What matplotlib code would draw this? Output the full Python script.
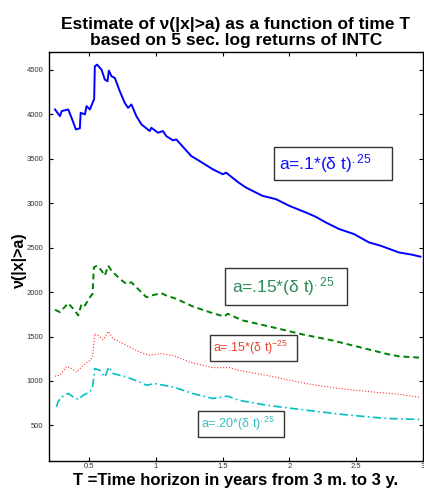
import matplotlib.pyplot as plt

plt.rcParams['font.family'] = ['Liberation Sans', 'DejaVu Sans']
plt.rcParams['mathtext.default'] = 'regular'

# threshold a = .1*(dt)^.25
t_blue = [0.245, 0.282, 0.295, 0.344, 0.369, 0.401, 0.431, 0.437, 0.469, 0.481,
          0.506, 0.531, 0.538, 0.543, 0.560, 0.593, 0.618, 0.638, 0.648, 0.668,
          0.693, 0.730, 0.767, 0.792, 0.817, 0.854, 0.892, 0.954, 0.966, 1.016,
          1.053, 1.078, 1.128, 1.153, 1.265, 1.327, 1.426, 1.501, 1.526, 1.620,
          1.675, 1.799, 1.899, 1.999, 2.123, 2.198, 2.272, 2.372, 2.484, 2.596,
          2.683, 2.819, 2.919, 2.981]
nu_blue = [4054, 3979, 4035, 4054, 3960, 3830, 3841, 4016, 3998, 4091,
           4054, 4147, 4166, 4539, 4558, 4502, 4390, 4371, 4491, 4427,
           4408, 4259, 4128, 4072, 4110, 3979, 3886, 3811, 3848, 3792,
           3811, 3754, 3706, 3717, 3530, 3474, 3381, 3325, 3343, 3231,
           3175, 3082, 3045, 2970, 2895, 2846, 2783, 2709, 2652, 2558,
           2521, 2446, 2420, 2398]

# threshold a = .15*(dt)^.25
t_green = [0.245, 0.282, 0.344, 0.381, 0.419, 0.444, 0.469, 0.506, 0.526, 0.536,
           0.560, 0.593, 0.618, 0.643, 0.668, 0.730, 0.780, 0.817, 0.866, 0.929,
           0.966, 1.041, 1.078, 1.153, 1.277, 1.426, 1.513, 1.538, 1.620, 1.650,
           1.849, 2.098, 2.322, 2.571, 2.720, 2.819, 2.981]
nu_green = [1801, 1774, 1875, 1812, 1737, 1868, 1849, 1942, 1980, 2278,
            2297, 2241, 2185, 2297, 2241, 2148, 2092, 2110, 2036, 1942,
            1961, 1987, 1961, 1924, 1838, 1762, 1725, 1756, 1700, 1681,
            1613, 1524, 1456, 1363, 1307, 1277, 1262]

# threshold a = .15*(dt)^-.25
t_red = [0.245, 0.282, 0.332, 0.369, 0.407, 0.456, 0.506, 0.526, 0.543, 0.568,
         0.605, 0.643, 0.680, 0.780, 0.879, 0.954, 1.028, 1.128, 1.252, 1.426,
         1.551, 1.620, 1.825, 2.123, 2.372, 2.620, 2.819, 2.981]
nu_red = [1053, 1064, 1165, 1139, 1101, 1176, 1232, 1269, 1532, 1513,
          1464, 1557, 1475, 1400, 1325, 1288, 1307, 1288, 1213, 1150,
          1150, 1120, 1064, 971, 915, 877, 851, 814]

# threshold a = .20*(dt)^.25
t_cyan = [0.257, 0.267, 0.295, 0.344, 0.381, 0.419, 0.456, 0.506, 0.526, 0.543,
          0.581, 0.618, 0.648, 0.680, 0.780, 0.879, 0.929, 0.991, 1.128, 1.277,
          1.426, 1.538, 1.620, 1.825, 2.123, 2.446, 2.720, 2.981]
nu_cyan = [709, 765, 821, 859, 821, 792, 840, 877, 933, 1139,
           1120, 1045, 1157, 1083, 1045, 989, 952, 971, 933, 859,
           803, 829, 784, 728, 672, 616, 579, 567]

x_ticks = [0.5, 1, 1.5, 2, 2.5, 3]
x_ticklabels = ['0.5', '1', '1.5', '2', '2.5', '3']
y_ticks = [500, 1000, 1500, 2000, 2500, 3000, 3500, 4000, 4500]

fig = plt.figure(figsize=(4.24, 4.88), dpi=100)
ax = fig.add_axes([49 / 424, 27 / 488, 374 / 424, 409 / 488])

ax.plot(t_blue, nu_blue, color='#0000ff', lw=1.4)
ax.plot(t_green, nu_green, color='#008000', lw=1.4, ls=(0, (3, 2)))
ax.plot(t_red, nu_red, color='#ff3030', lw=0.8, ls=':')
ax.plot(t_cyan, nu_cyan, color='#00bfbf', lw=1.2, ls=(0, (5, 2, 1, 2)))

ax.set_xlim(0.2, 3)
ax.set_ylim(100, 4700)
ax.set_xticks(x_ticks)
ax.set_xticklabels(x_ticklabels)
ax.set_yticks(y_ticks)
ax.tick_params(direction='in', top=True, right=True, labelsize=5.5, length=3,
               width=0.8, pad=4, labelcolor='#333333')
ax.tick_params(axis='x', pad=1.5)
for s in ax.spines.values():
    s.set_linewidth(1.0)

box = dict(boxstyle='square,pad=0.3', fc='white', ec='#333333', lw=1.0)
ax.text(1.92, 3446, 'a=.1*(\u03b4 t)$^{.25}$    ', color='#1010ff', fontsize=12.5,
        bbox=box, va='center')
ax.text(1.57, 2062, 'a=.15*(\u03b4 t)$^{.25}$  ', color='#2e8b57', fontsize=12.5,
        bbox=dict(boxstyle='square,pad=0.4', fc='white', ec='#333333', lw=1.0),
        va='center')
ax.text(1.43, 1367, 'a=.15*(\u03b4 t)$^{-25}$  ', color='#e8432e', fontsize=9,
        bbox=box, va='center')
ax.text(1.34, 518, 'a=.20*(\u03b4 t)$^{.25}$  ', color='#33c0c0', fontsize=9,
        bbox=box, va='center')

ax.set_title('Estimate of \u03bd(|x|>a) as a function of time T\n'
             'based on 5 sec. log returns of INTC',
             fontsize=12.5, fontweight='bold', linespacing=1.05, pad=5)
ax.set_xlabel('T =Time horizon in years from 3 m. to 3 y.', fontsize=12,
              fontweight='bold')
ax.xaxis.set_label_coords(0.5, -0.03)
ax.set_ylabel('\u03bd(|x|>a)', fontsize=11.5, fontweight='bold')
ax.yaxis.set_label_coords(-0.058, 0.49)

fig.savefig('out.png', dpi=100)
